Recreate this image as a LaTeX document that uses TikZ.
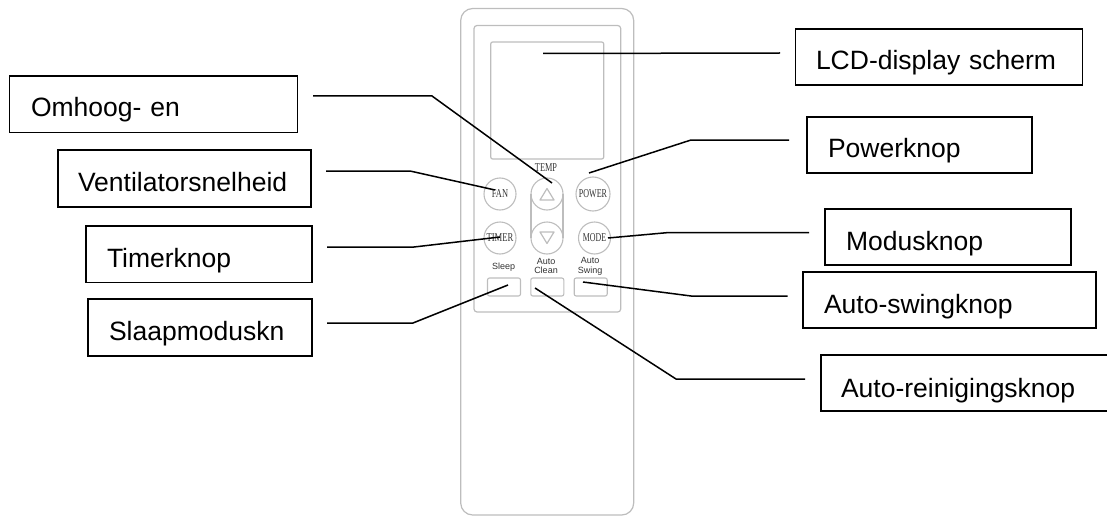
\documentclass[tikz,border=0pt]{standalone}
\usepackage{fontspec}
\usepackage{graphicx}
\setmainfont{Liberation Sans}
\newfontfamily\btnfont{Liberation Serif}
\definecolor{remotegrey}{gray}{0.74}
\definecolor{remotetext}{gray}{0.2}
\tikzset{
  labelbox/.style={draw=black,line width=1.4pt,rectangle,anchor=north west,inner xsep=0pt,inner ysep=0pt,outer sep=0pt,align=left,font=\fontsize{26.5}{30}\selectfont,text=black},
  leader/.style={draw=black,line width=1.5pt},
  remoteline/.style={draw=remotegrey,line width=1.2pt},
  roundbtn/.style={circle,draw=remotegrey,line width=1.1pt,inner sep=0pt,outer sep=0pt,minimum size=32pt,text=remotetext,font=\btnfont\fontsize{12}{12}\selectfont},
  rectbtn/.style={rectangle,draw=remotegrey,line width=1.1pt,rounded corners=2pt,minimum width=33pt,minimum height=18pt,inner sep=0pt,outer sep=0pt},
  smalltxt/.style={text=remotetext,inner sep=0pt,align=center,font=\fontsize{9}{9.6}\selectfont},
}
\begin{document}
\begin{tikzpicture}[x=1pt,y=-1pt]
\useasboundingbox (0,0) rectangle (1107,516);
% remote body
\draw[remoteline,rounded corners=12pt] (460.7,8.5) rectangle (633.7,515);
\draw[remoteline,rounded corners=3pt] (474,25.5) rectangle (620.7,312);
\node[rectangle,remoteline,rounded corners=2pt,minimum width=113pt,minimum height=117pt,inner sep=0pt,outer sep=0pt] (display) at (547.2,100.5) {};
% buttons
\node[roundbtn] (btnfan) at (500,194) {\scalebox{.7}[1]{FAN}};
\node[roundbtn] (btnup) at (547,194) {};
\node[roundbtn,minimum size=34pt] (btnpower) at (593,194) {\scalebox{.67}[1]{POWER}};
\node[roundbtn] (btntimer) at (500,238) {\scalebox{.72}[1]{TIMER}};
\node[roundbtn] (btndown) at (547,238) {};
\node[roundbtn] (btnmode) at (594.5,238) {\scalebox{.66}[1]{MODE}};
\draw[remoteline] (btnup.west) -- (btndown.west);
\draw[remoteline] (btnup.east) -- (btndown.east);
\draw[remoteline,line join=round] (547,188.5) -- (554,200) -- (540,200) -- cycle;
\draw[remoteline,line join=round] (547,243.5) -- (554,232) -- (540,232) -- cycle;
\node[rectbtn] (btnsleep) at (504,287) {};
\node[rectbtn] (btnclean) at (547.3,287) {};
\node[rectbtn] (btnswing) at (590.7,287) {};
% small captions
\node[text=remotetext,inner sep=0pt,font=\btnfont\fontsize{12}{12}\selectfont] (temp) at (546,168) {\scalebox{.69}[1]{TEMP}};
\node[smalltxt] (capsleep) at (503.7,267.5) {Sleep};
\node[smalltxt] (capclean) at (546,266) {Auto\\Clean};
\node[smalltxt] (capswing) at (590,266.5) {Auto\\Swing};
% label boxes: text height = baseline - top, text depth = bottom - baseline
\node[labelbox,text width=288pt,text height=41pt,text depth=15.5pt] (omhoog) at (9.5,76) {\hspace*{21.5pt}Omhoog- en};
\node[labelbox,text width=253pt,text height=41pt,text depth=16pt] (vent) at (58,150) {\hspace*{20pt}Ventilatorsnelheid};
\node[labelbox,text width=226pt,text height=41pt,text depth=15.5pt] (timer) at (86,226) {\hspace*{21pt}Timerknop};
\node[labelbox,text width=224pt,text height=41pt,text depth=16pt] (slaap) at (88,299) {\hspace*{21pt}Slaapmoduskn};
\node[labelbox,text width=287pt,text height=41pt,text depth=15pt] (lcd) at (795.5,29) {\hspace*{20.5pt}LCD-display scherm};
\node[labelbox,text width=225pt,text height=40pt,text depth=16pt] (power) at (807,117) {\hspace*{21pt}Powerknop};
\node[labelbox,text width=246pt,text height=41pt,text depth=15pt] (modus) at (825,209) {\hspace*{21pt}Modusknop};
\node[labelbox,text width=293pt,text height=41pt,text depth=15pt] (swing) at (803,272) {\hspace*{21pt}Auto-swingknop};
\node[labelbox,text width=310pt,text height=42pt,text depth=14pt] (clean) at (821,355) {\hspace*{20pt}Auto-reinigingsknop};
% connectors
\draw[leader] ([xshift=15.5pt,yshift=8.25pt]omhoog.east) -- ++(119,0) -- ([xshift=5pt,yshift=11pt]btnup.center);
\draw[leader] ([xshift=15pt,yshift=7.5pt]vent.east) -- ++(84,0) -- ([xshift=-5pt,yshift=4pt]btnfan.center);
\draw[leader] ([xshift=15pt,yshift=7.25pt]timer.east) -- ++(87,0) -- ([yshift=1pt]btntimer.center);
\draw[leader] ([xshift=15pt,yshift=4.5pt]slaap.east) -- ++(86,0) -- ([xshift=4pt,yshift=2pt]btnsleep.center);
\draw[leader] ([xshift=-15.5pt,yshift=4pt]lcd.west) -- ([xshift=-4.2pt,yshift=47pt]display.center);
\draw[leader] ([xshift=-18pt,yshift=5pt]power.west) -- ++(-98,0) -- ([xshift=-4pt,yshift=21pt]btnpower.center);
\draw[leader] ([xshift=-16pt,yshift=4.5pt]modus.west) -- ++(-140,0) -- ([xshift=13.5pt]btnmode.center);
\draw[leader] ([xshift=-15.5pt,yshift=4pt]swing.west) -- ++(-96.5,0) -- ([xshift=-7.7pt,yshift=5pt]btnswing.center);
\draw[leader] ([xshift=-16pt,yshift=4pt]clean.west) -- ++(-129,0) -- ([xshift=-12.3pt,yshift=-1pt]btnclean.center);
\end{tikzpicture}
\end{document}
